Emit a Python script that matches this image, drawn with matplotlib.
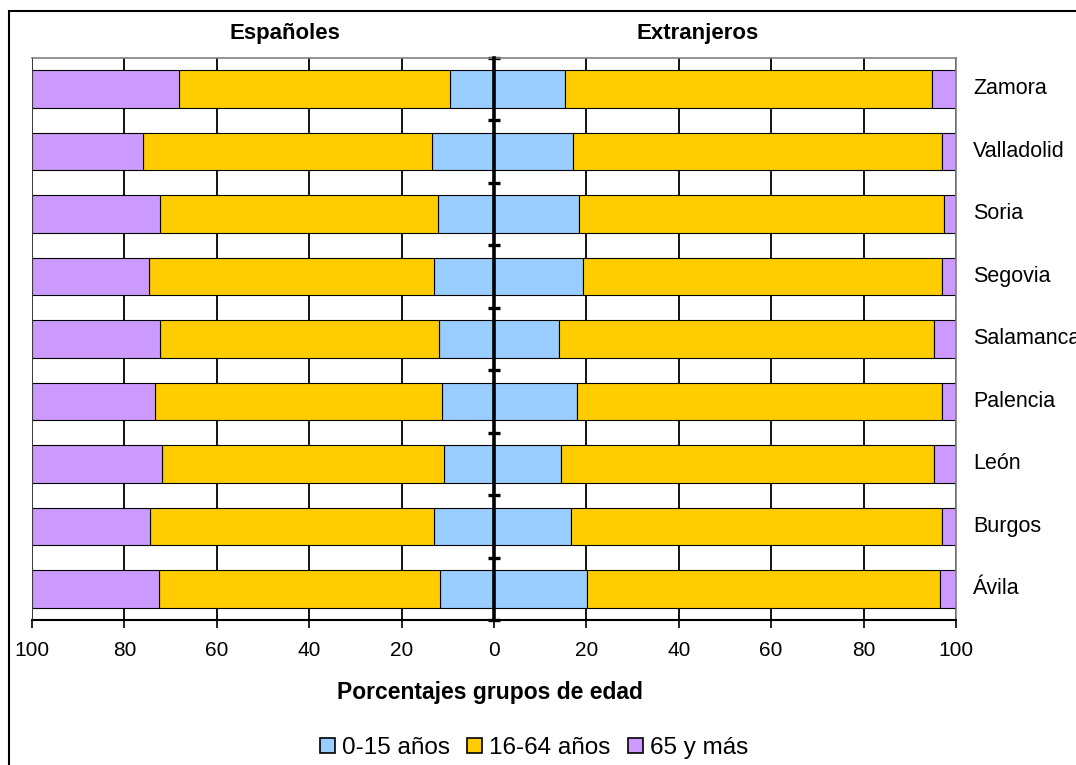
import numpy as np
import matplotlib
matplotlib.use("Agg")
import matplotlib.pyplot as plt
from matplotlib.patches import Patch, Rectangle

plt.rcParams['font.family'] = ['Liberation Sans', 'DejaVu Sans']

# provincias, de arriba a abajo
provincias = ['Zamora', 'Valladolid', 'Soria', 'Segovia', 'Salamanca',
              'Palencia', 'León', 'Burgos', 'Ávila']

# Españoles (%)
esp_0_15 = [9.6, 13.5, 12.2, 13.0, 11.8, 11.3, 10.9, 13.0, 11.7]
esp_16_64 = [58.6, 62.5, 60.0, 61.7, 60.4, 62.1, 60.9, 61.4, 60.9]
esp_65 = [31.8, 24.0, 27.8, 25.3, 27.8, 26.6, 28.2, 25.6, 27.4]

# Extranjeros (%)
ext_0_15 = [15.4, 17.2, 18.4, 19.3, 14.1, 18.0, 14.6, 16.7, 20.2]
ext_16_64 = [79.4, 79.8, 79.0, 77.7, 81.1, 79.0, 80.7, 80.3, 76.3]
ext_65 = [5.2, 3.0, 2.6, 3.0, 4.8, 3.0, 4.7, 3.0, 3.5]

grupos = ['0-15 años', '16-64 años', '65 y más']
colores = ['#99CCFF', '#FFCC00', '#CC99FF']

fig = plt.figure(figsize=(10.76, 7.65), dpi=100)
ax = fig.add_axes([0.0297, 0.1895, 0.8587, 0.7353])

y = np.arange(len(provincias))[::-1]
h = 0.6
ekw = dict(edgecolor='black', linewidth=0.8, height=h, zorder=2)

# españoles hacia la izquierda
e1 = np.array(esp_0_15)
e2 = np.array(esp_16_64)
e3 = np.array(esp_65)
ax.barh(y, -e1, left=0, color=colores[0], **ekw)
ax.barh(y, -e2, left=-e1, color=colores[1], **ekw)
ax.barh(y, -e3, left=-(e1 + e2), color=colores[2], **ekw)

# extranjeros hacia la derecha
x1 = np.array(ext_0_15)
x2 = np.array(ext_16_64)
x3 = np.array(ext_65)
ax.barh(y, x1, left=0, color=colores[0], **ekw)
ax.barh(y, x2, left=x1, color=colores[1], **ekw)
ax.barh(y, x3, left=x1 + x2, color=colores[2], **ekw)

ax.set_xlim(-100, 100)
ax.set_ylim(-0.5, len(provincias) - 0.5)

# eje x
ticks = np.arange(-100, 101, 20)
ax.set_xticks(ticks)
ax.set_xticklabels([str(abs(t)) for t in ticks])
ax.tick_params(axis='x', direction='out', length=6, width=1.2, pad=9,
               labelsize=15, colors='black')
ax.xaxis.grid(True, color='black', linewidth=1.3, zorder=0)
ax.set_axisbelow(True)

# eje y en el centro
ax.spines['left'].set_position(('data', 0))
ax.spines['left'].set_linewidth(2.6)
ax.spines['left'].set_zorder(3)
ax.set_yticks(np.arange(-0.5, len(provincias), 1))
ax.tick_params(axis='y', direction='inout', length=8, width=2.4,
               labelleft=False)
ax.spines['bottom'].set_linewidth(1.5)
for s in ['top', 'right']:
    ax.spines[s].set_color('#808080')
    ax.spines[s].set_linewidth(1.2)
ax.axvline(-100, color='#404040', linewidth=1.3, zorder=3)

for yi, nombre in zip(y, provincias):
    ax.text(103.7, yi, nombre, va='center', ha='left', fontsize=15.5,
            clip_on=False)

fig.text(285 / 1076, 1 - 33 / 765, 'Españoles', ha='center', va='center',
         fontsize=16, fontweight='bold')
fig.text(698 / 1076, 1 - 33 / 765, 'Extranjeros', ha='center', va='center',
         fontsize=16, fontweight='bold')
fig.text(490 / 1076, 1 - 693 / 765, 'Porcentajes grupos de edad',
         ha='center', va='center', fontsize=16.5, fontweight='bold')

handles = [Patch(facecolor=c, edgecolor='black', linewidth=1.2) for c in colores]
fig.legend(handles, grupos, loc='center', bbox_to_anchor=(534 / 1076, 1 - 748 / 765),
           ncol=3, frameon=False, fontsize=17.5, handlelength=0.62,
           handleheight=0.62, handletextpad=0.3, columnspacing=0.7)

# marco exterior
fig.patches.append(Rectangle((9 / 1076, -0.1), 1.2, 0.1 + 1 - 11 / 765,
                             transform=fig.transFigure, fill=False,
                             edgecolor='black', linewidth=1.5))

fig.savefig('out.png', dpi=100)
